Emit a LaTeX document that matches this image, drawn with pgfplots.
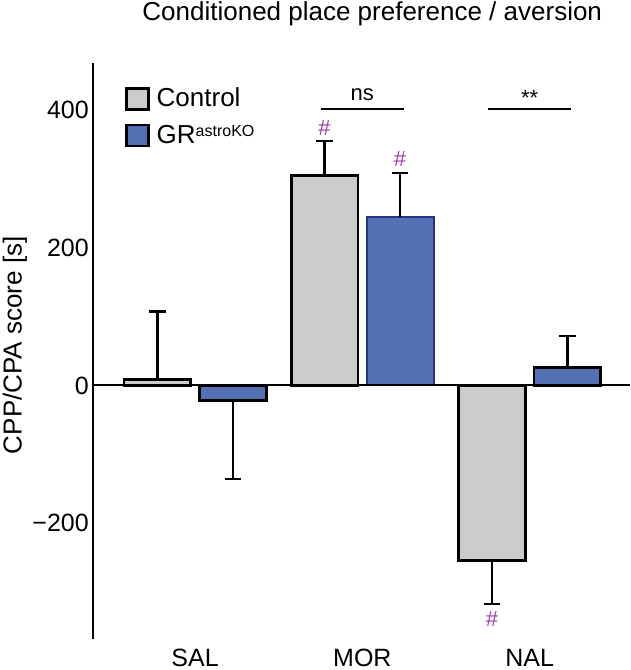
\documentclass[border=0pt]{standalone}
\usepackage{fontspec}
\setmainfont{Liberation Sans}
\usepackage{pgfplots}
\pgfplotsset{compat=1.18}
\definecolor{ctrl}{RGB}{203,203,203}
\definecolor{gr}{RGB}{83,113,178}
\definecolor{grdark}{RGB}{40,50,130}
\definecolor{hash}{RGB}{158,62,168}
\begin{document}
\begin{tikzpicture}
\begin{axis}[
  ybar, bar width=0.4,
  scale only axis, width=537pt, height=576pt,
  xmin=-0.61, xmax=2.6, ymin=-368, ymax=468,
  axis lines*=left,
  x axis line style={draw=none},
  y axis line style={line width=2.5pt},
  major tick length=0pt,
  xtick={0,1,2}, xticklabels={SAL,MOR,NAL},
  ytick={-200,0,200,400}, yticklabels={−200,0,200,400},
  ticklabel style={font=\fontsize{25}{30}\selectfont},
  yticklabel style={anchor=east, inner sep=0pt, xshift=-4pt},
  xticklabel style={anchor=base, inner sep=0pt, yshift=-27pt},
  ylabel={CPP/CPA score [s]},
  ylabel style={at={(axis description cs:-0.1455,0.51)}, anchor=center, inner sep=0pt, font=\fontsize{26}{30}\selectfont},
  title={Conditioned place preference / aversion},
  title style={at={(axis description cs:0.52,1)}, anchor=base, yshift=36pt, inner sep=0pt, font=\fontsize{26}{30}\selectfont},
  clip=false,
  legend style={at={(axis description cs:0.0596,0.958)}, anchor=north west, draw=none, fill=none,
    inner sep=0pt, row sep=13pt, font=\fontsize{26}{30}\selectfont,
    nodes={inner sep=0pt, anchor=base west}},
  legend cell align=left,
  error bars/error bar style={line width=2.5pt, black},
  error bars/error mark options={rotate=90, mark size=8.25pt, line width=2.5pt, black},
]
% Control, positive bars
\addplot[bar shift=-0.2255, fill=ctrl, draw=black, line width=2.7pt,
  legend image code/.code={\draw[fill=ctrl,draw=black,line width=2.5pt] (0pt,-3pt) rectangle (22pt,18pt);},
  error bars/.cd, y dir=plus, y explicit]
  coordinates {(0,9) +- (0,98) (1,305) +- (0,50)};
\addlegendentry{\hspace{7pt}Control}
% GR positive bars
\addplot[bar shift=0.2255, fill=gr, draw=black, line width=2.7pt,
  legend image code/.code={\draw[fill=gr,draw=black,line width=2.5pt] (0pt,-3pt) rectangle (22pt,18pt);},
  error bars/.cd, y dir=plus, y explicit]
  coordinates {(2,26) +- (0,46)};
\addlegendentry{\hspace{7pt}GR{\fontsize{16}{18}\selectfont\raisebox{7pt}{astroKO}}}
\addplot[forget plot, bar shift=0.2255, fill=gr, draw=grdark, line width=2pt,
  error bars/.cd, y dir=plus, y explicit]
  coordinates {(1,245) +- (0,63)};
% negative bars
\addplot[forget plot, bar shift=-0.2255, fill=ctrl, draw=black, line width=2.7pt,
  error bars/.cd, y dir=minus, y explicit]
  coordinates {(2,-254) +- (0,63)};
\addplot[forget plot, bar shift=0.2255, fill=gr, draw=black, line width=2.7pt,
  error bars/.cd, y dir=minus, y explicit]
  coordinates {(0,-22) +- (0,114)};
% zero line
\draw[line width=2pt] (axis cs:-0.61,0) -- (axis cs:2.6,0);
% significance
\draw[line width=2.5pt] (axis cs:0.75,401) -- (axis cs:1.25,401);
\draw[line width=2.5pt] (axis cs:1.75,401) -- (axis cs:2.25,401);
\node[font=\fontsize{22}{26}\selectfont, anchor=base, inner sep=0pt] at (axis cs:1,414) {ns};
\node[font=\fontsize{22}{26}\selectfont, anchor=base, inner sep=0pt] at (axis cs:2,407) {**};
\node[font=\fontsize{22}{26}\selectfont, text=hash, inner sep=0pt] at (axis cs:0.7745,374) {\#};
\node[font=\fontsize{22}{26}\selectfont, text=hash, inner sep=0pt] at (axis cs:1.2255,329) {\#};
\node[font=\fontsize{22}{26}\selectfont, text=hash, inner sep=0pt] at (axis cs:1.7745,-339) {\#};
\end{axis}
\pgfresetboundingbox
\useasboundingbox (current axis.south west) ++(-93pt,-31pt) rectangle ++(630pt,670pt);
\end{tikzpicture}
\end{document}
